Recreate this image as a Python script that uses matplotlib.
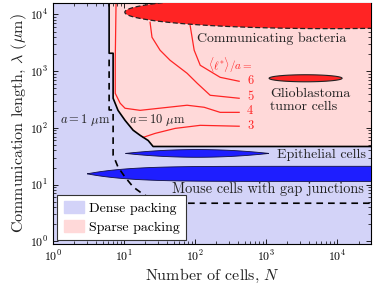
import numpy as np
import matplotlib
matplotlib.use('Agg')
import matplotlib.pyplot as plt
from matplotlib.patches import Patch

plt.rcParams['font.family'] = 'cmr10'
plt.rcParams['mathtext.fontset'] = 'custom'
plt.rcParams['mathtext.rm'] = 'Liberation Sans'
plt.rcParams['mathtext.it'] = 'Liberation Sans:italic'
plt.rcParams['axes.unicode_minus'] = False
plt.rcParams['axes.formatter.use_mathtext'] = True

# axis ranges
N_range = (1, 3e4)
lam_range = (0.9, 1.6e4)

# sparse / dense boundary, a = 10 um (solid) and a = 1 um (dashed)
bound_N = [6.15, 6.15, 7.0, 7.0, 8.2, 10.3, 13.4, 16.8, 21.8, 25.6, 3e4]
bound_lam10 = [1.6e4, 2070, 2070, 333, 204, 136, 91, 74, 60, 47, 47]
bound_lam1 = [1600, 207, 207, 33.3, 20.4, 13.6, 9.1, 7.4, 6.0, 4.7, 4.7]

# <l*>/a contours
c6_N = [85, 97, 118, 225, 417]
c6_lam = [6440, 2340, 1271, 780, 664]
c5_N = [23.2, 24.7, 32.1, 44.4, 77.1, 107, 163, 417]
c5_lam = [7280, 3960, 2340, 1557, 918, 612, 376, 333]
c4_N = [7.7, 7.5, 7.5, 8.8, 10.3, 16.8, 77, 134, 225, 417]
c4_lam = [1.6e4, 1557, 407, 272, 222, 204, 251, 231, 188, 188]
c3_N = [18.5, 27.3, 52.3, 118, 417]
c3_lam = [68, 80, 98, 111, 107]
contour_labels = ['6', '5', '4', '3']
contour_label_lam = [664, 347, 196, 107]

# cell systems in decades: log10 N center, half-width, log10 lambda center, half-height
bact = (3.9, 2.89, 4.04, 0.29)
glio = (3.556, 0.514, 2.875, 0.062)
epi = (2.03, 1.01, 1.55, 0.068)
mouse = (4.9, 4.42, 1.19, 0.133)

dense_col = '#d3d3f8'
sparse_col = '#ffd9d9'
red = '#ff2424'
blue = '#1e1eff'
tc = '#222222'
cm = dict(math_fontfamily='cm')


def ellipse(c, n=400):
    t = np.linspace(0, 2 * np.pi, n)
    return 10 ** (c[0] + c[1] * np.cos(t)), 10 ** (c[2] + c[3] * np.sin(t))


def lens(c, p, n=400):
    u = np.linspace(-1, 1, n)
    h = c[3] * (1 - np.abs(u) ** p)
    xs = np.concatenate([u, u[::-1]])
    ys = np.concatenate([h, -h[::-1]])
    return 10 ** (c[0] + c[1] * xs), 10 ** (c[2] + ys)


fig = plt.figure(figsize=(3.74, 2.88), dpi=100)
ax = fig.add_axes([0.142, 0.153, 0.85, 0.837])
ax.set_xscale('log')
ax.set_yscale('log')
ax.set_xlim(*N_range)
ax.set_ylim(*lam_range)
ax.set_facecolor(dense_col)

# sparse region
ax.fill(bound_N + [N_range[1]], bound_lam10 + [lam_range[1]], color=sparse_col, lw=0, zorder=1)

# contours
for xs, ys in [(c6_N, c6_lam), (c5_N, c5_lam), (c4_N, c4_lam), (c3_N, c3_lam)]:
    ax.plot(xs, ys, color=red, lw=0.9, zorder=2)

ax.fill(*ellipse(bact), facecolor=red, edgecolor='#222222', lw=0.9, ls=(0, (4, 2)), zorder=3)
ax.fill(*ellipse(glio), facecolor=red, edgecolor='#222222', lw=0.8, zorder=3)
ax.fill(*lens(epi, 2), facecolor=blue, edgecolor='#111144', lw=0.6, zorder=3)
ax.fill(*lens(mouse, 8), facecolor=blue, edgecolor='#111144', lw=0.6, zorder=3)

# boundaries
ax.plot(bound_N, bound_lam10, color='black', lw=1.2, zorder=4)
ax.plot(bound_N, bound_lam1, color='black', lw=1.2, ls=(0, (4, 3)), zorder=4)

# annotations
fs = 10
ax.text(107, 3800, 'Communicating bacteria', fontsize=fs, color=tc, va='center', zorder=5)
ax.text(1140, 307, 'Glioblastoma\ntumor cells', fontsize=fs, color=tc, va='center', linespacing=1.15, zorder=5)
ax.text(25800, 32.9, 'Epithelial cells', fontsize=fs, color=tc, ha='right', va='center', zorder=5)
ax.text(23500, 8.3, 'Mouse cells with gap junctions', fontsize=10.3, color=tc, ha='right', va='center', zorder=5)
ax.text(2.8, 136, r'$a = 1\ \mu\mathrm{m}$', fontsize=9, color=tc, ha='center', va='center', zorder=5, **cm)
ax.text(29.2, 136, r'$a = 10\ \mu\mathrm{m}$', fontsize=9, color=tc, ha='center', va='center', zorder=5, **cm)
ax.text(315, 1250, r'$\langle \ell^{*} \rangle / a =$', fontsize=8, color=red, ha='center', va='center', zorder=5, **cm)
for lab, ly in zip(contour_labels, contour_label_lam):
    ax.text(595, ly, lab, fontsize=9, color=red, ha='center', va='center', zorder=5)

ax.set_xlabel(r'Number of cells, $N$', fontsize=11.5, color=tc, labelpad=2, **cm)
ax.set_ylabel(r'Communication length, $\lambda$ ($\mu$m)', fontsize=11.5, color=tc, labelpad=1, **cm)

ax.tick_params(which='both', direction='in', top=True, right=True, labelsize=8.5)
ax.tick_params(which='major', length=3.5, width=0.6)
ax.tick_params(which='minor', length=2, width=0.5)
for s in ax.spines.values():
    s.set_linewidth(0.8)

leg = ax.legend(handles=[Patch(color=dense_col, label='Dense packing'),
                         Patch(color=sparse_col, label='Sparse packing')],
                loc='lower left', fontsize=fs, fancybox=False, framealpha=1,
                edgecolor='#333333', borderpad=0.45, handlelength=1.5, handleheight=0.95,
                handletextpad=0.3, labelspacing=0.35, borderaxespad=0.3)
leg.get_frame().set_linewidth(0.8)
leg.set_zorder(6)

fig.savefig('out.png', dpi=100)
